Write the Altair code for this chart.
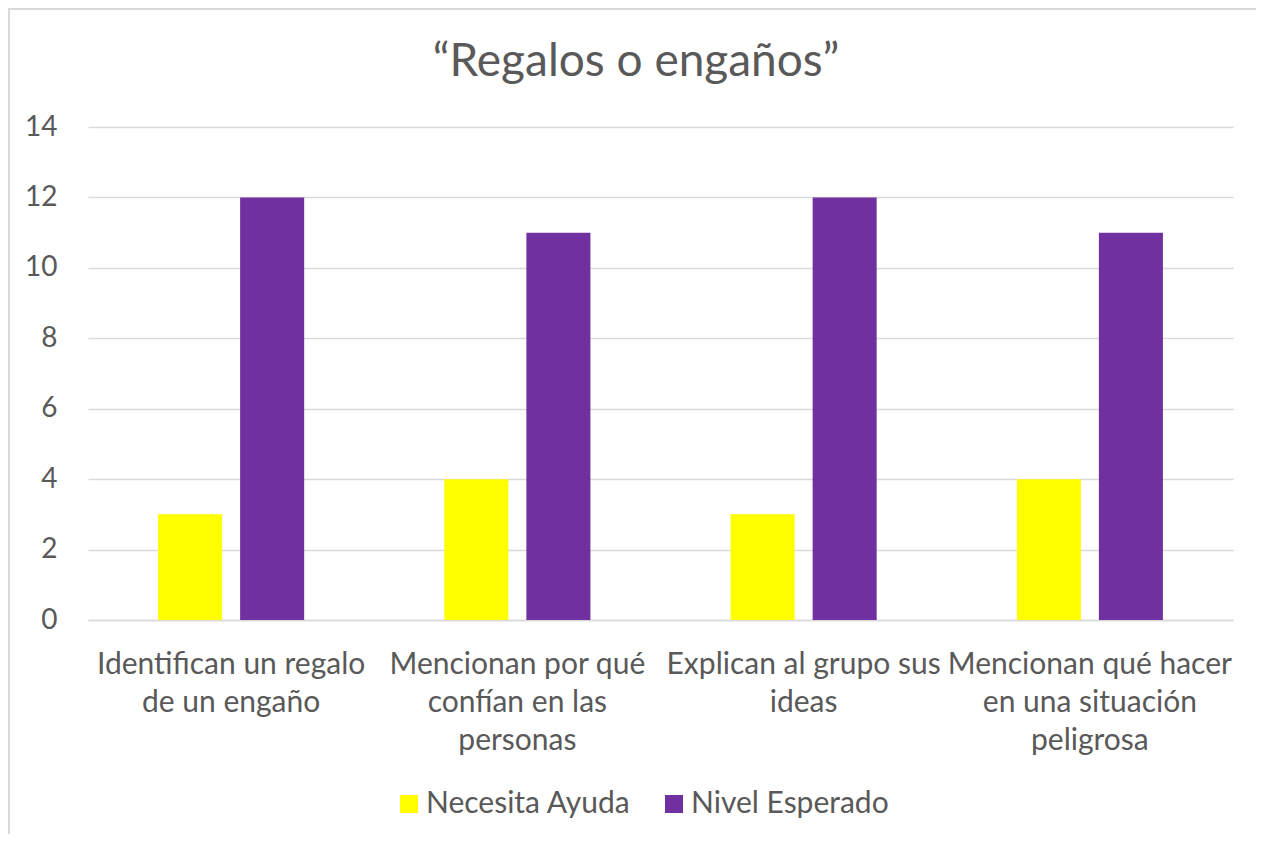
import altair as alt
import pandas as pd
import json

categories = [
    "Identifican un regalo de un engaño",
    "Mencionan por qué confían en las personas",
    "Explican al grupo sus ideas",
    "Mencionan qué hacer en una situación peligrosa",
]
label_lines = [
    ["Identifican un regalo", "de un engaño"],
    ["Mencionan por qué", "confían en las", "personas"],
    ["Explican al grupo sus", "ideas"],
    ["Mencionan qué hacer", "en una situación", "peligrosa"],
]
series = ["Necesita Ayuda", "Nivel Esperado"]
necesita_ayuda = [3, 4, 3, 4]
nivel_esperado = [12, 11, 12, 11]
colors = ["#FFFF00", "#7030A0"]
y_ticks = [0, 2, 4, 6, 8, 10, 12, 14]
title_text = "\u201cRegalos o engaños\u201d"

rows = []
for i, c in enumerate(categories):
    rows.append({"cat": c, "serie": series[0], "value": necesita_ayuda[i]})
    rows.append({"cat": c, "serie": series[1], "value": nivel_esperado[i]})
df = pd.DataFrame(rows)

label_map = {c: l for c, l in zip(categories, label_lines)}
label_expr = json.dumps(label_map, ensure_ascii=False) + "[datum.value]"

FONT = "Lato"
GREY = "#595959"

bars = alt.Chart(df).mark_bar().encode(
    x=alt.X(
        "cat:N",
        sort=categories,
        scale=alt.Scale(paddingInner=0, paddingOuter=0),
        axis=alt.Axis(
            title=None,
            labelAngle=0,
            labelExpr=label_expr,
            labelFontSize=30,
            labelColor=GREY,
            labelFont=FONT,
            labelLineHeight=38,
            labelPadding=29,
            labelBaseline="top",
            labelLimit=0,
            ticks=False,
            domainColor="#d9d9d9",
            domainWidth=1.5,
            grid=False,
        ),
    ),
    xOffset=alt.XOffset(
        "serie:N",
        sort=series,
        scale=alt.Scale(paddingInner=0.2195, paddingOuter=0.854),
    ),
    y=alt.Y(
        "value:Q",
        scale=alt.Scale(domain=[0, 14], nice=False),
        axis=alt.Axis(
            title=None,
            values=y_ticks,
            labelFontSize=28,
            labelColor=GREY,
            labelFont=FONT,
            labelPadding=31,
            ticks=False,
            domain=False,
            gridColor="#d9d9d9",
            gridWidth=1.5,
        ),
    ),
    color=alt.Color(
        "serie:N",
        sort=series,
        scale=alt.Scale(domain=series, range=colors),
        legend=alt.Legend(
            title=None,
            orient="none",
            direction="horizontal",
            legendX=306,
            legendY=662,
            symbolType="square",
            symbolSize=324,
            symbolStrokeWidth=0,
            labelFontSize=30,
            labelColor=GREY,
            labelFont=FONT,
            labelOffset=2,
            labelLimit=0,
            columnPadding=28,
        ),
    ),
)

border = alt.Chart(alt.Data(values=[{"a": 1}])).mark_rect(
    fill=None, stroke="#d9d9d9", strokeWidth=2
).encode(
    x=alt.value(-79), x2=alt.value(1174), y=alt.value(-118), y2=alt.value(740)
)

title = alt.Chart(alt.Data(values=[{"t": title_text}])).mark_text(
    font=FONT, fontSize=46, color=GREY, align="center", baseline="alphabetic"
).encode(
    text="t:N", x=alt.value(548), y=alt.value(-51)
)

chart = alt.layer(border, bars, title).properties(
    width=1145,
    height=493,
    autosize=alt.AutoSizeParams(type="none"),
    padding={"left": 80, "top": 119, "right": 23, "bottom": 214},
).configure_view(stroke=None)

chart.save("out.html", embed_options={"renderer": "svg", "actions": False})
